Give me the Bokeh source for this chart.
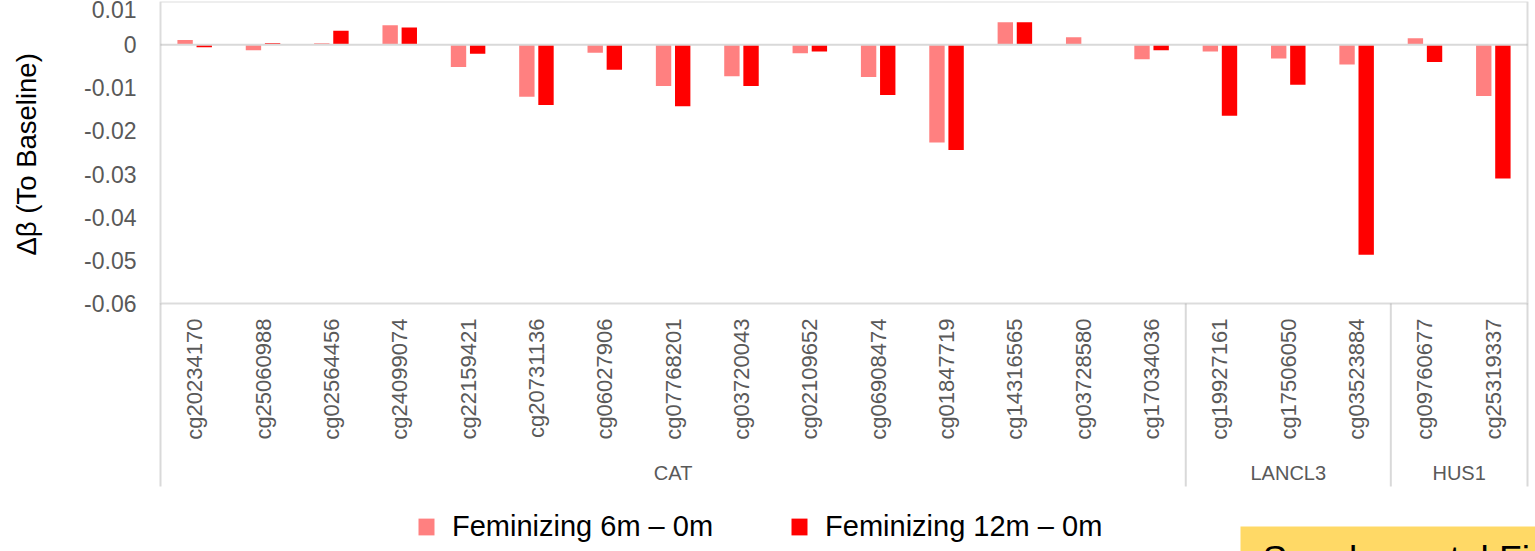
import math
from bokeh.plotting import figure
from bokeh.models import (FactorRange, Range1d, ColumnDataSource, Legend,
                          LegendItem, FixedTicker, BoxAnnotation, Label, Title,
                          LinearAxis)
from bokeh.transform import dodge
from bokeh.embed import file_html
from bokeh.resources import INLINE

# ---------------- data ----------------
genes = ["CAT"] * 15 + ["LANCL3"] * 3 + ["HUS1"] * 2
cpg_sites = ["cg20234170", "cg25060988", "cg02564456", "cg24099074", "cg22159421",
             "cg20731136", "cg06027906", "cg07768201", "cg03720043", "cg02109652",
             "cg06908474", "cg01847719", "cg14316565", "cg03728580", "cg17034036",
             "cg19927161", "cg17506050", "cg03523884", "cg09760677", "cg25319337"]
delta_6m = [0.0011, -0.0013, 0.0003, 0.0045, -0.0052, -0.0121, -0.0019, -0.0096,
            -0.0073, -0.0020, -0.0075, -0.0227, 0.0052, 0.0017, -0.0034,
            -0.0016, -0.0032, -0.0046, 0.0015, -0.0119]
delta_12m = [-0.0006, 0.0003, 0.0032, 0.0040, -0.0021, -0.0140, -0.0058, -0.0143,
             -0.0096, -0.0016, -0.0117, -0.0244, 0.0052, 0.0, -0.0013,
             -0.0165, -0.0093, -0.0487, -0.0040, -0.0310]
series_labels = ["Feminizing 6m \u2013 0m", "Feminizing 12m \u2013 0m"]
y_ticks = [-0.06, -0.05, -0.04, -0.03, -0.02, -0.01, 0, 0.01]
y_tick_labels = ["-0.06", "-0.05", "-0.04", "-0.03", "-0.02", "-0.01", "0", "0.01"]
y_title = "\u0394\u03b2 (To Baseline)"
note_text = "Supplemental Figure"

# ---------------- layout constants ----------------
FONT = "Liberation Sans"
GREY_TXT = "#595959"
W, H = 1535, 551
PLOT_LEFT, PLOT_RIGHT = 160, 1527       # plotting-area edges (page px)
PAD = 8                                 # frame reaches 8px beyond them
TOP = 1
PLOT_BOTTOM_PX = 303
Y_MIN, Y_MAX = min(y_ticks), max(y_ticks)
PER_PX = (Y_MAX - Y_MIN) / (PLOT_BOTTOM_PX - TOP)

n_sites = len(cpg_sites)
UNIT_PX = (PLOT_RIGHT - PLOT_LEFT) / n_sites


def y_at(px):
    return Y_MAX - (px - TOP) * PER_PX


def x_at(px):
    return (px - PLOT_LEFT) / UNIT_PX


# group boundaries / centres derived from the gene list
group_names, group_counts = [], []
for g in genes:
    if group_names and group_names[-1] == g:
        group_counts[-1] += 1
    else:
        group_names.append(g)
        group_counts.append(1)
bounds = [0]
for c in group_counts:
    bounds.append(bounds[-1] + c)
centers = [(bounds[i] + bounds[i + 1]) / 2 for i in range(len(group_counts))]

source = ColumnDataSource(dict(x=cpg_sites, v6=delta_6m, v12=delta_12m))

x_range = FactorRange(factors=cpg_sites, factor_padding=0,
                      range_padding=PAD / UNIT_PX, range_padding_units="absolute")

p = figure(width=W, height=H, x_range=x_range,
           y_range=Range1d(y_at(H), Y_MAX),
           output_backend="svg", toolbar_location=None,
           min_border_left=PLOT_LEFT - PAD, min_border_right=W - PLOT_RIGHT - PAD,
           min_border_top=TOP, min_border_bottom=0,
           background_fill_color="white", border_fill_color="white",
           outline_line_color=None)

p.xgrid.visible = False
p.ygrid.visible = False

# yellow note box (bottom right) – drawn first so it sits underneath
p.add_layout(BoxAnnotation(left=x_at(1240), top=y_at(526), fill_color="#FFD966",
                           fill_alpha=1, line_color=None, level="underlay"))

r6 = p.vbar(x=dodge("x", -0.14, range=p.x_range), top="v6", width=0.225,
            source=source, fill_color="#FF8080", line_color=None)
r12 = p.vbar(x=dodge("x", 0.14, range=p.x_range), top="v12", width=0.225,
             source=source, fill_color="#FF0000", line_color=None)

# zero line across the plotting area
p.segment(x0=[0], x1=[n_sites], y0=[0], y1=[0], line_color="#D9D9D9", line_width=2)

# plot-area border
p.add_layout(BoxAnnotation(left=0, right=n_sites, bottom=Y_MIN, top=Y_MAX,
                           fill_alpha=0, line_color="#8C8C8C", line_width=2))

# category separators (group boundaries) under the plot area
p.segment(x0=bounds, x1=bounds, y0=[Y_MIN] * len(bounds),
          y1=[y_at(486)] * len(bounds), line_color="#D9D9D9", line_width=2)

# group names
for name, cx in zip(group_names, centers):
    p.add_layout(Label(x=cx, y=y_at(472), text=name, text_align="center",
                       text_baseline="middle", text_font=FONT,
                       text_font_size="20px", text_color=GREY_TXT))

# y axis
ya = p.yaxis[0]
ya.ticker = FixedTicker(ticks=y_ticks)
ya.major_label_overrides = {t: s for t, s in zip(y_ticks, y_tick_labels)}
ya.axis_line_color = None
ya.major_tick_line_color = None
ya.minor_tick_line_color = None
ya.major_tick_out = 0
ya.major_tick_in = 0
ya.major_label_standoff = 16
ya.major_label_text_font = FONT
ya.major_label_text_font_size = "23px"
ya.major_label_text_color = GREY_TXT

# blank spacer axis between the tick labels and the y-axis title
spacer_tick = y_at(H - 4)
spacer = LinearAxis(ticker=FixedTicker(ticks=[spacer_tick]), axis_line_color=None,
                    major_tick_in=0, major_tick_out=38, minor_tick_out=0,
                    major_tick_line_color="white", minor_tick_line_color=None,
                    major_label_standoff=0, major_label_text_alpha=0,
                    major_label_text_font_size="1px",
                    major_label_overrides={spacer_tick: ""})
p.add_layout(spacer, "left")

# y-axis title, centred on the plotting area (not the whole frame)
p.add_layout(Title(text=y_title, align="left", offset=H - 255,
                   vertical_align="top", standoff=0, text_font=FONT,
                   text_font_size="27.5px", text_font_style="normal",
                   text_color="#000000"), "left")

# x axis, pinned to the bottom of the plotting area
xa = p.xaxis[0]
xa.fixed_location = Y_MIN
xa.axis_line_color = None
xa.major_tick_line_color = None
xa.major_tick_out = 0
xa.major_tick_in = 0
xa.major_label_orientation = math.pi / 2
xa.major_label_standoff = 15
xa.major_label_text_font = FONT
xa.major_label_text_font_size = "22px"
xa.major_label_text_color = GREY_TXT

# legend
legend = Legend(items=[LegendItem(label=series_labels[0], renderers=[r6]),
                       LegendItem(label=series_labels[1], renderers=[r12])],
                orientation="horizontal", location=(416 - (PLOT_LEFT - PAD), 8),
                glyph_width=20, glyph_height=21, label_standoff=16, spacing=76,
                padding=0, margin=0, border_line_color=None,
                background_fill_alpha=0,
                label_text_font=FONT, label_text_font_size="29px",
                label_text_color="#000000")
p.add_layout(legend)

# note text inside the yellow box
p.add_layout(Label(x=x_at(1262), y=y_at(538), text=note_text, text_align="left",
                   text_baseline="top", text_font=FONT, text_font_size="37px",
                   text_color="#000000"))

open("out.html", "w").write(file_html(p, INLINE))
